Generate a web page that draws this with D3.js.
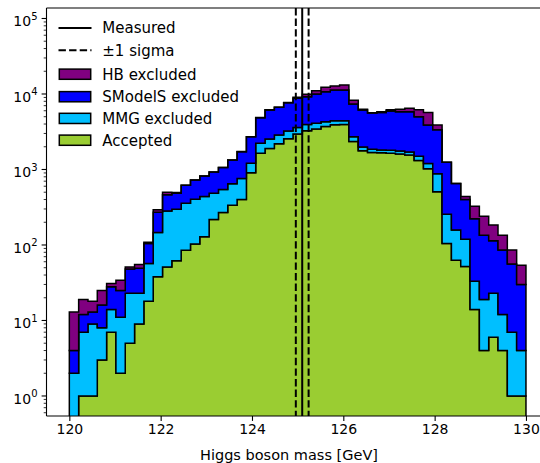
<!DOCTYPE html>
<html>
<head>
<meta charset="utf-8">
<script src="https://cdnjs.cloudflare.com/ajax/libs/d3/7.8.5/d3.min.js"></script>
<style>
  html, body { margin: 0; padding: 0; background: #fff; }
  svg { display: block; font-family: "DejaVu Sans", sans-serif; }
</style>
</head>
<body>
<svg id="chart" width="540" height="463"></svg>
<script>
// Histogram binning: 49 equal bins between 120 and 130 GeV
const binStart = 120, binEnd = 130, binCount = 49;

// Counts per bin for each category (stacked bottom to top)
const accepted = [0, 1, 1, 3, 7, 2, 5, 9, 18, 38, 51, 62, 85, 103, 129, 217, 270, 335, 400, 905,
  1640, 1900, 2200, 2550, 2950, 3250, 3450, 3700, 3900, 3950, 2350, 1770, 1680, 1660, 1640, 1600, 1556, 1320, 1020, 508,
  105, 63, 52, 14, 4, 6, 4, 1, 1];
const mmgExcluded = [2, 6, 8, 5, 7, 9, 18, 14, 39, 108, 231, 236, 271, 301, 311, 267, 273, 310, 360, 301,
  584, 635, 665, 686, 650, 700, 650, 600, 530, 480, 370, 210, 180, 150, 155, 160, 144, 180, 180, 372,
  150, 95, 67, 19, 15, 17, 8, 6, 3];
const smodelsExcluded = [2, 5, 4, 8, 14, 14, 25, 26, 48, 126, 182, 187, 261, 319, 377, 441, 517, 691, 960, 1511,
  2631, 3605, 3795, 4434, 5200, 5250, 5900, 6420, 6870, 6870, 4660, 4170, 3740, 3890, 4165, 4070, 4130, 3510, 2690, 2490,
  990, 492, 281, 189, 116, 91, 74, 49, 26];
const hbExcluded = [9, 7, 5, 9, 3, 9, 3, 6, 4, 20, 36, 10, 3, 2, 3, 3, 3, 4, 5, 3,
  15, 20, 30, 30, 240, 700, 1060, 1530, 1470, 1900, 870, 120, 60, 130, 240, 470, 630, 1170, 1810, 520,
  0, 0, 40, 104, 105, 70, 49, 30, 24];

// Measured Higgs mass and its uncertainty [GeV]
const measuredMass = 125.1;
const measuredSigma = 0.14;

// Axis ticks
const xTicks = [120, 122, 124, 126, 128, 130];
const yTickExponents = [0, 1, 2, 3, 4, 5];

const series = [
  { key: "accepted", label: "Accepted", color: "#9acd32", values: accepted },
  { key: "mmg", label: "MMG excluded", color: "#00bfff", values: mmgExcluded },
  { key: "smodels", label: "SModelS excluded", color: "#0000ff", values: smodelsExcluded },
  { key: "hb", label: "HB excluded", color: "#800080", values: hbExcluded }
];

const svg = d3.select("#chart");
const plot = { left: 46.5, right: 548.8, top: 8, bottom: 416 };

const x = d3.scaleLinear().domain([119.5, 130.5]).range([plot.left, plot.right]);
const y = d3.scaleLog().domain([0.543, 137700]).range([plot.bottom, plot.top]);

// bin edges
const binWidth = (binEnd - binStart) / binCount;
const edges = d3.range(binCount + 1).map(i => binStart + i * binWidth);

// stacked table
const table = edges.slice(0, binCount).map((e, i) => {
  const row = { x0: e, x1: edges[i + 1] };
  series.forEach(s => { row[s.key] = s.values[i]; });
  return row;
});
const stacked = d3.stack().keys(series.map(s => s.key))(table);

svg.append("defs").append("clipPath").attr("id", "plotClip")
  .append("rect")
  .attr("x", plot.left).attr("y", plot.top)
  .attr("width", plot.right - plot.left).attr("height", plot.bottom - plot.top);

const gPlot = svg.append("g").attr("clip-path", "url(#plotClip)");

const floorVal = 0.05;
const area = d3.area()
  .curve(d3.curveStepAfter)
  .x(d => x(d.x))
  .y0(d => y(Math.max(d.lo, floorVal)))
  .y1(d => y(Math.max(d.hi, floorVal)));

stacked.forEach((layer, li) => {
  const pts = layer.map((d, i) => ({ x: table[i].x0, lo: d[0], hi: d[1] }));
  const last = layer[layer.length - 1];
  pts.push({ x: binEnd, lo: last[0], hi: last[1] });
  gPlot.append("path")
    .datum(pts)
    .attr("d", area)
    .attr("fill", series[li].color)
    .attr("stroke", "#000")
    .attr("stroke-width", 1.5)
    .attr("stroke-linejoin", "miter");
});

// measured mass and +-1 sigma band edges
gPlot.append("line")
  .attr("x1", x(measuredMass)).attr("x2", x(measuredMass))
  .attr("y1", plot.top).attr("y2", plot.bottom)
  .attr("stroke", "#000").attr("stroke-width", 2);
[measuredMass - measuredSigma, measuredMass + measuredSigma].forEach(v => {
  gPlot.append("line")
    .attr("x1", x(v)).attr("x2", x(v))
    .attr("y1", plot.top).attr("y2", plot.bottom)
    .attr("stroke", "#000").attr("stroke-width", 2)
    .attr("stroke-dasharray", "7.4,3.2");
});

// axes
const fs = 14;
const xAxis = d3.axisBottom(x).tickValues(xTicks).tickSize(4.9).tickPadding(3.5).tickFormat(d3.format("d"));
const gx = svg.append("g").attr("transform", `translate(0,${plot.bottom})`).call(xAxis);
gx.select(".domain").remove();
gx.selectAll(".tick line").attr("stroke", "#000").attr("stroke-width", 1.1);
gx.selectAll(".tick text").attr("font-size", fs).attr("font-family", "DejaVu Sans").attr("fill", "#000");

// y axis: major and minor ticks
const yMajor = yTickExponents.map(e => Math.pow(10, e));
const yMinor = [];
for (let e = -1; e <= 5; e++) for (let m = 2; m <= 9; m++) {
  const v = m * Math.pow(10, e);
  if (v >= y.domain()[0] && v <= y.domain()[1]) yMinor.push(v);
}
const gy = svg.append("g");
gy.selectAll("line.minor").data(yMinor).join("line")
  .attr("x1", plot.left - 2.8).attr("x2", plot.left)
  .attr("y1", d => y(d)).attr("y2", d => y(d))
  .attr("stroke", "#000").attr("stroke-width", 0.8);
gy.selectAll("line.major").data(yMajor).join("line")
  .attr("x1", plot.left - 4.9).attr("x2", plot.left)
  .attr("y1", d => y(d)).attr("y2", d => y(d))
  .attr("stroke", "#000").attr("stroke-width", 1.1);
const labels = gy.selectAll("text").data(yTickExponents).join("text")
  .attr("x", 37.5)
  .attr("y", d => y(Math.pow(10, d)) + 7.7)
  .attr("text-anchor", "end")
  .attr("font-size", fs)
  .attr("fill", "#000");
labels.append("tspan").text("10");
labels.append("tspan").attr("font-size", 10).attr("dy", -6.2).text(d => d);

// spines
svg.append("line").attr("x1", plot.left).attr("x2", plot.left).attr("y1", plot.top).attr("y2", plot.bottom)
  .attr("stroke", "#000").attr("stroke-width", 1.1);
svg.append("line").attr("x1", plot.left).attr("x2", plot.right).attr("y1", plot.bottom).attr("y2", plot.bottom)
  .attr("stroke", "#000").attr("stroke-width", 1.1);
svg.append("line").attr("x1", plot.left).attr("x2", plot.right).attr("y1", plot.top).attr("y2", plot.top)
  .attr("stroke", "#000").attr("stroke-width", 1.1);
svg.append("line").attr("x1", plot.right).attr("x2", plot.right).attr("y1", plot.top).attr("y2", plot.bottom)
  .attr("stroke", "#000").attr("stroke-width", 1.1);

// x label
svg.append("text")
  .attr("x", 289).attr("y", 459.5)
  .attr("text-anchor", "middle")
  .attr("font-size", 14.5)
  .attr("fill", "#000")
  .text("Higgs boson mass [GeV]");

// legend
const legend = svg.append("g");
const legendItems = [
  { label: "Measured", type: "line" },
  { label: "\u00b11 sigma", type: "dash" },
  { label: "HB excluded", type: "patch", color: "#800080" },
  { label: "SModelS excluded", type: "patch", color: "#0000ff" },
  { label: "MMG excluded", type: "patch", color: "#00bfff" },
  { label: "Accepted", type: "patch", color: "#9acd32" }
];
const legendY = [28, 50.3, 74.2, 96.7, 118.4, 140.2];
legendItems.forEach((it, i) => {
  const cy = legendY[i];
  if (it.type === "patch") {
    legend.append("rect")
      .attr("x", 59.3).attr("y", cy - 5.1).attr("width", 31.4).attr("height", 10.2)
      .attr("fill", it.color).attr("stroke", "#000").attr("stroke-width", 1.5);
  } else {
    legend.append("line")
      .attr("x1", 58.5).attr("x2", 91.5).attr("y1", cy).attr("y2", cy)
      .attr("stroke", "#000").attr("stroke-width", 2)
      .attr("stroke-dasharray", it.type === "dash" ? "7.4,3.2" : null);
  }
  legend.append("text")
    .attr("x", 102.3).attr("y", cy + 5.4)
    .attr("font-size", 15)
    .attr("fill", "#000")
    .text(it.label);
});
</script>
</body>
</html>
